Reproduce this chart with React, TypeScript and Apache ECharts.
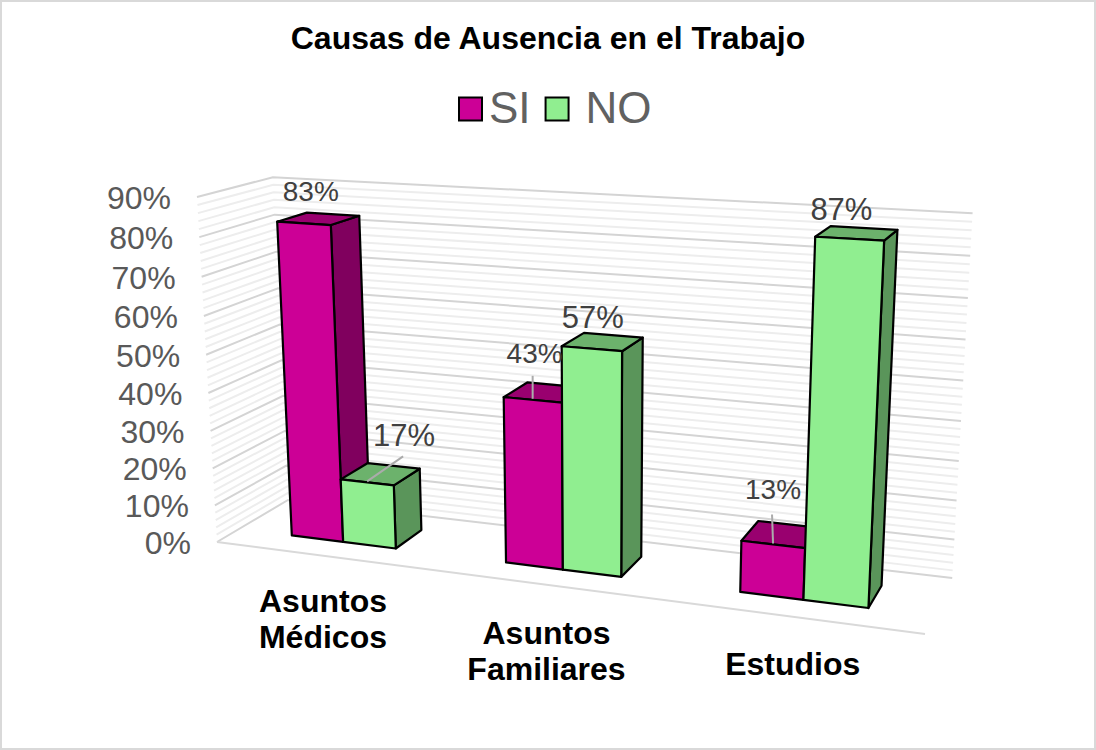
import React, { useEffect, useRef } from "react";
import * as echarts from "echarts";

const title = "Causas de Ausencia en el Trabajo";
const categories = ["Asuntos\nMédicos", "Asuntos\nFamiliares", "Estudios"];
const siValues = [83, 43, 13];
const noValues = [17, 57, 87];
const majorTicks = [0, 10, 20, 30, 40, 50, 60, 70, 80, 90];
const minorTicks = [2, 4, 6, 8, 12, 14, 16, 18, 22, 24, 26, 28, 32, 34, 36, 38, 42, 44, 46, 48, 52, 54, 56, 58, 62, 64, 66, 68, 72, 74, 76, 78, 82, 84, 86, 88];

// Perspective of the plot box
const A = [217, 542], B = [925, 634], C = [288, 500], E = [197, 197];
const au = -0.149, av = -0.05, ad = 0.072, twist = 8.5;
const U = [B[0] * (1 + au) - A[0], B[1] * (1 + au) - A[1]];
const V = [E[0] * (1 + av) - A[0], E[1] * (1 + av) - A[1]];
const D = [C[0] * (1 + ad) - A[0], C[1] * (1 + ad) - A[1]];
function project(u: number, v: number, d: number): number[] {
  const w = 1 + au * u + av * v + ad * d;
  return [
    (A[0] + u * U[0] + v * V[0] + d * D[0]) / w,
    (A[1] + u * U[1] + v * V[1] + d * D[1]) / w + twist * u * v,
  ];
}

const FONT = "'Liberation Sans', Arial, sans-serif";
const TEXT = "#595959";
const BAR_D0 = 0.3, BAR_D1 = 0.71, BAR_W = 0.25;
const BAR_SHIFT = [0.012, 0.016, 0.006];
const CATEGORY_NUDGE = [{ dx: 3, dy: 28 }, { dx: 4, dy: 31 }, { dx: 2.5, dy: 30 }];

const SI_STYLE = { front: "#CC0096", top: "#99006F", side: "#80005E", font: 28, slot: -1 };
const NO_STYLE = { front: "#90EE90", top: "#6CB26C", side: "#5A955A", font: 31, slot: 0 };
// label offset from the middle of the bar's top front edge; leader: length drawn toward the label
const SI_LABELS = [{ dx: 7, dy: -32 }, { dx: 2, dy: -46, lx: 0, ly: -24 }, { dx: 0, dy: -55, lx: -1, ly: -30 }];
const NO_LABELS = [{ dx: 37, dy: -47, lx: 36, ly: -26 }, { dx: 1, dy: -31 }, { dx: -8, dy: -29 }];

function barSeries(name: string, values: number[], st: any, labels: any[]) {
  return {
    type: "custom",
    name,
    silent: true,
    clip: false,
    itemStyle: { color: st.front },
    data: values.map((v, i) => [i, v]),
    renderItem(params: any, api: any) {
      const cs = params.coordSys;
      const cat = api.value(0), val = api.value(1);
      const p = api.coord([cat, val]);
      const bw = api.size([1, 0])[0];
      const u0 = (p[0] + (st.slot * BAR_W + BAR_SHIFT[params.dataIndex]) * bw - cs.x) / cs.width;
      const u1 = u0 + (BAR_W * bw) / cs.width;
      const h = (cs.y + cs.height - p[1]) / cs.height;
      const poly = (pts: number[][], fill: string) => ({
        type: "polygon",
        shape: { points: pts },
        style: { fill, stroke: "#000", lineWidth: 2.2, lineJoin: "round" },
      });
      const fb = project(u0, 0, BAR_D0), fbr = project(u1, 0, BAR_D0);
      const ft = project(u0, h, BAR_D0), ftr = project(u1, h, BAR_D0);
      const bt = project(u0, h, BAR_D1), btr = project(u1, h, BAR_D1), bbr = project(u1, 0, BAR_D1);
      const anchor = project((u0 + u1) / 2, h, BAR_D0);
      const lab = labels[params.dataIndex];
      const children: any[] = [
        poly([ftr, fbr, bbr, btr], st.side),
        poly([ft, ftr, btr, bt], st.top),
        poly([ft, ftr, fbr, fb], st.front),
      ];
      if (lab.lx !== undefined) {
        children.push({
          type: "line",
          z2: 20,
          shape: { x1: anchor[0], y1: anchor[1] - 1, x2: anchor[0] + lab.lx, y2: anchor[1] + lab.ly },
          style: { stroke: "#ABABAB", lineWidth: 2 },
        });
      }
      children.push({
        type: "text",
        z2: 21,
        style: {
          text: val + "%",
          x: anchor[0] + lab.dx,
          y: anchor[1] + lab.dy,
          align: "center",
          verticalAlign: "middle",
          fontSize: st.font,
          fontFamily: FONT,
          fill: "#404040",
        },
      });
      return { type: "group", children };
    },
  };
}

function gridSeries(ticks: number[], color: string, width: number, withLabels: boolean) {
  return {
    type: "custom",
    silent: true,
    clip: false,
    data: ticks.map((t) => [0, t]),
    renderItem(params: any, api: any) {
      const cs = params.coordSys;
      const val = api.value(1);
      const h = (cs.y + cs.height - api.coord([0, val])[1]) / cs.height;
      const f = project(0, h, 0), b = project(0, h, 1), r = project(1, h, 1);
      const children: any[] = [
        { type: "polyline", shape: { points: [f, b, r] }, style: { stroke: color, lineWidth: width, fill: "none" } },
      ];
      if (withLabels) {
        children.push({
          type: "text",
          style: {
            text: val + "%",
            x: f[0] - 26,
            y: f[1] + 1,
            align: "right",
            verticalAlign: "middle",
            fontSize: 32,
            fontFamily: FONT,
            fill: TEXT,
          },
        });
      }
      return { type: "group", children };
    },
  };
}

const floorSeries = {
  type: "custom",
  silent: true,
  clip: false,
  data: [[0, 0]],
  renderItem() {
    const a = project(0, 0, 0), b = project(1, 0, 0);
    return { type: "line", shape: { x1: a[0], y1: a[1], x2: b[0], y2: b[1] }, style: { stroke: "#D9D9D9", lineWidth: 2 } };
  },
};

const categorySeries = {
  type: "custom",
  silent: true,
  clip: false,
  data: categories.map((_, i) => [i, 0]),
  renderItem(params: any, api: any) {
    const cs = params.coordSys;
    const p = api.coord([api.value(0), 0]);
    const f = project((p[0] - cs.x) / cs.width, 0, 0);
    const n = CATEGORY_NUDGE[params.dataIndex];
    return {
      type: "text",
      style: {
        text: categories[params.dataIndex],
        x: f[0] + n.dx,
        y: f[1] + n.dy,
        align: "center",
        verticalAlign: "top",
        fontSize: 32,
        lineHeight: 36,
        fontWeight: "bold",
        fontFamily: FONT,
        fill: "#000",
      },
    };
  },
};

export default function App() {
  const ref = useRef<HTMLDivElement>(null);
  useEffect(() => {
    document.body.style.margin = "0";
    const chart = echarts.init(ref.current!, null, { renderer: "svg" });
    chart.setOption({
      animation: false,
      backgroundColor: "#fff",
      title: {
        text: title,
        left: 543,
        top: 17,
        textAlign: "center",
        textStyle: { fontSize: 32, fontWeight: "bold", color: "#000", fontFamily: FONT },
      },
      legend: {
        data: [
          { name: "SI", icon: "rect", itemStyle: { color: SI_STYLE.front, borderColor: "#000", borderWidth: 2 } },
          { name: "NO", icon: "rect", itemStyle: { color: NO_STYLE.front, borderColor: "#000", borderWidth: 2 } },
        ],
        left: 453,
        top: 80,
        itemWidth: 23,
        itemHeight: 23,
        itemGap: 14,
        formatter: (name: string) => (name === "NO" ? "{n|NO}" : "{s|SI}"),
        textStyle: {
          fontSize: 44,
          color: "#616161",
          fontFamily: FONT,
          rich: {
            s: { fontSize: 44, color: "#616161", fontFamily: FONT, padding: [0, 0, 4, 2] },
            n: { fontSize: 44, color: "#616161", fontFamily: FONT, padding: [0, 0, 4, 12] },
          },
        },
      },
      grid: { left: 100, top: 100, width: 800, height: 500 },
      xAxis: { type: "category", data: categories, show: false },
      yAxis: { type: "value", min: 0, max: 90, interval: 10, show: false },
      graphic: [
        { type: "rect", silent: true, shape: { x: 1, y: 1, width: 1094, height: 748 }, style: { fill: "none", stroke: "#D9D9D9", lineWidth: 2 } },
      ],
      series: [
        gridSeries(minorTicks, "#EDEDED", 2, false),
        gridSeries(majorTicks, "#D4D4D4", 2, true),
        floorSeries,
        categorySeries,
        barSeries("SI", siValues, SI_STYLE, SI_LABELS),
        barSeries("NO", noValues, NO_STYLE, NO_LABELS),
      ],
    });
    return () => chart.dispose();
  }, []);
  return <div ref={ref} style={{ width: 1096, height: 750 }} />;
}
